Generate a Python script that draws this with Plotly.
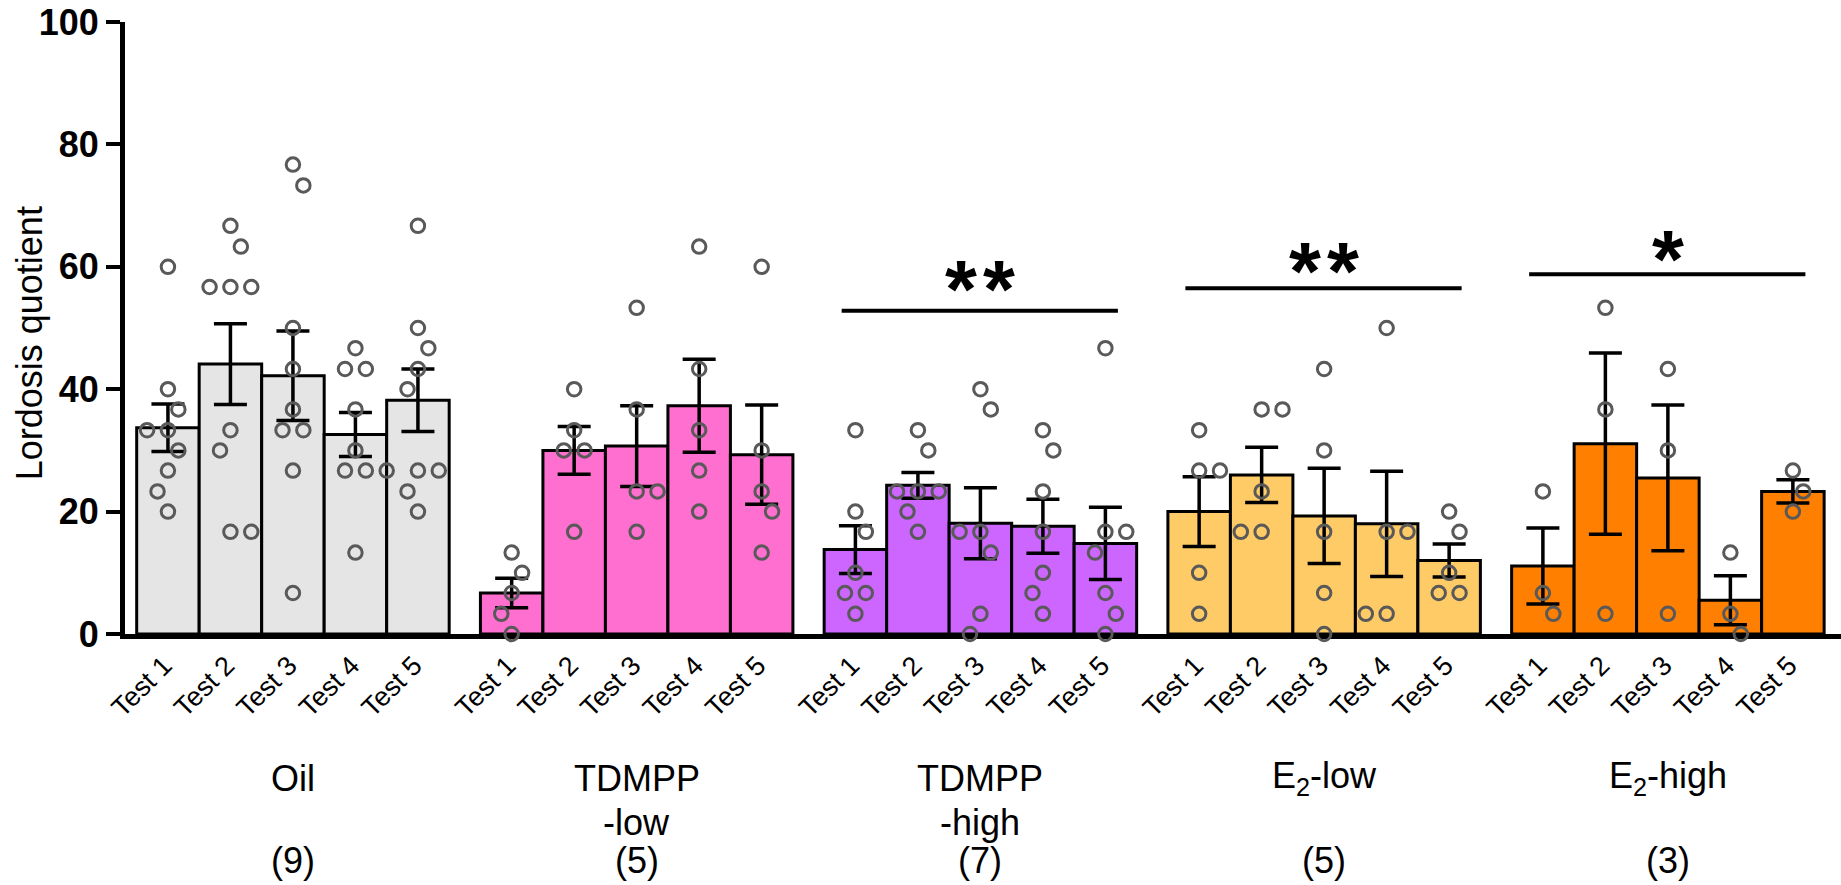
import plotly.graph_objects as go

# ---- data -----------------------------------------------------------------
tests = ["Test 1", "Test 2", "Test 3", "Test 4", "Test 5"]
group_names = ["Oil", "TDMPP", "TDMPP", "E<sub>2</sub>-low", "E<sub>2</sub>-high"]
group_suffix = ["", "-low", "-high", "", ""]
group_n = ["(9)", "(5)", "(7)", "(5)", "(3)"]

# individual lordosis quotients per animal, one list per test
oil_values = [
    [60, 40, 36.7, 33.3, 33.3, 30, 26.7, 23.3, 20],
    [66.7, 63.3, 56.7, 56.7, 56.7, 33.3, 30, 16.7, 16.7],
    [76.7, 73.3, 50, 43.3, 36.7, 33.3, 33.3, 26.7, 6.7],
    [46.7, 43.3, 43.3, 36.7, 30, 26.7, 26.7, 26.7, 13.3],
    [66.7, 50, 46.7, 43.3, 40, 26.7, 26.7, 23.3, 20],
]
tdmpp_low_values = [
    [13.3, 10, 6.7, 3.3, 0],
    [40, 33.3, 30, 30, 16.7],
    [53.3, 36.7, 23.3, 23.3, 16.7],
    [63.3, 43.3, 33.3, 26.7, 20],
    [60, 30, 23.3, 20, 13.3],
]
tdmpp_high_values = [
    [33.3, 20, 16.7, 10, 6.7, 6.7, 3.3],
    [33.3, 30, 23.3, 23.3, 23.3, 20, 16.7],
    [40, 36.7, 16.7, 16.7, 13.3, 3.3, 0],
    [33.3, 30, 23.3, 16.7, 10, 6.7, 3.3],
    [46.7, 16.7, 16.7, 13.3, 6.7, 3.3, 0],
]
e2_low_values = [
    [33.3, 26.7, 26.7, 10, 3.3],
    [36.7, 36.7, 23.3, 16.7, 16.7],
    [43.3, 30, 16.7, 6.7, 0],
    [50, 16.7, 16.7, 3.3, 3.3],
    [20, 16.7, 10, 6.7, 6.7],
]
e2_high_values = [
    [23.3, 6.7, 3.3],
    [53.3, 36.7, 3.3],
    [43.3, 30, 3.3],
    [13.3, 3.3, 0],
    [26.7, 23.3, 20],
]

# group means and SEM per test
oil_mean = [33.7, 44.1, 42.2, 32.6, 38.2]
oil_sem = [3.9, 6.6, 7.3, 3.6, 5.1]
tdmpp_low_mean = [6.7, 30.0, 30.7, 37.3, 29.3]
tdmpp_low_sem = [2.4, 3.9, 6.6, 7.6, 8.1]
tdmpp_high_mean = [13.8, 24.3, 18.1, 17.6, 14.8]
tdmpp_high_sem = [3.9, 2.1, 5.8, 4.4, 5.9]
e2_low_mean = [20.0, 26.0, 19.3, 18.0, 12.0]
e2_low_sem = [5.7, 4.5, 7.8, 8.6, 2.7]
e2_high_mean = [11.1, 31.1, 25.5, 5.5, 23.3]
e2_high_sem = [6.2, 14.8, 11.9, 4.0, 1.9]

# significance markers: (group index, number of stars)
significance = [(2, 2), (3, 2), (4, 1)]

# ---- styling --------------------------------------------------------------
FONT = "Liberation Sans"
colors = ["#E5E5E5", "#FF6FCF", "#CC66FF", "#FFCB66", "#FF8000"]
dot_color = "#595959"
GROUP_PITCH = 5.5
LABEL_SHIFT = 0.06  # angled tick labels sit slightly left of the bar centre

values = [oil_values, tdmpp_low_values, tdmpp_high_values, e2_low_values, e2_high_values]
means = [oil_mean, tdmpp_low_mean, tdmpp_high_mean, e2_low_mean, e2_high_mean]
sems = [oil_sem, tdmpp_low_sem, tdmpp_high_sem, e2_low_sem, e2_high_sem]

# plot geometry (pixels) used to lay out the scatter dots without overlap
L, R, T, B = 125, 0, 22, 251
W, H = 1841, 885
X_RANGE = (-0.187, 27.27)
px_per_x = (W - L - R) / (X_RANGE[1] - X_RANGE[0])
px_per_y = (H - T - B) / 100.0


def swarm_offsets(vals):
    """Greedy beeswarm: shift points sideways in half-marker steps."""
    step = px_per_x / 6.0
    ax, ay = 20.0, 21.0
    placed = []
    offs = []
    for v in vals:
        y = v * px_per_y
        balance = sum(1 if p[0] > 0 else (-1 if p[0] < 0 else 0) for p in placed)
        first = -1 if balance > 0 else 1
        cands = [0]
        for k in range(1, 6):
            cands += [first * k, -first * k]
        chosen = cands[-1]
        for k in cands:
            x = k * step
            if all(((x - px) / ax) ** 2 + ((y - py) / ay) ** 2 >= 1 for px, py in placed):
                chosen = k
                break
        placed.append((chosen * step, y))
        offs.append(chosen * step / px_per_x)
    return offs


fig = go.Figure()

tickvals, ticktext = [], []
for g in range(5):
    centers = [g * GROUP_PITCH + t + 0.5 for t in range(5)]
    tickvals += [c - LABEL_SHIFT for c in centers]
    ticktext += tests
    fig.add_trace(go.Bar(
        x=centers, y=means[g], width=1.0,
        marker=dict(color=colors[g], line=dict(color="black", width=3)),
        error_y=dict(type="data", array=sems[g], visible=True,
                     color="black", thickness=3.5, width=16.5),
        cliponaxis=False, showlegend=False, hoverinfo="skip",
    ))

for g in range(5):
    for t in range(5):
        xc = g * GROUP_PITCH + t + 0.5
        vals = values[g][t]
        offs = swarm_offsets(vals)
        fig.add_trace(go.Scatter(
            x=[xc + o for o in offs], y=vals, mode="markers",
            marker=dict(symbol="circle", size=13.5, color="rgba(0,0,0,0)",
                        line=dict(color=dot_color, width=3)),
            cliponaxis=False, showlegend=False, hoverinfo="skip",
        ))

# significance bars and stars
sig_line_y = {2: 52.8, 3: 56.5, 4: 58.8}
sig_star_y = {2: 60.1, 3: 63.0, 4: 65.0}
STAR_GAP = 38  # px between neighbouring stars
for g, n_stars in significance:
    x0 = g * GROUP_PITCH
    fig.add_shape(type="line", xref="x", yref="y",
                  x0=x0 + 0.28, x1=x0 + 5 - 0.3,
                  y0=sig_line_y[g], y1=sig_line_y[g],
                  line=dict(color="black", width=4))
    for i in range(n_stars):
        fig.add_annotation(x=x0 + 2.5, y=sig_star_y[g], xref="x", yref="y",
                           text="*", showarrow=False, yanchor="middle",
                           xshift=(i - (n_stars - 1) / 2) * STAR_GAP, yshift=-22,
                           font=dict(family=FONT, size=82, color="black", weight="bold"))

# group labels below the axis
for g in range(5):
    xc = g * GROUP_PITCH + 2.5
    fig.add_annotation(x=xc, y=0, xref="x", yref="paper", text=group_names[g],
                       showarrow=False, yanchor="middle", yshift=-(778 - (H - B)),
                       font=dict(family=FONT, size=36, color="black"))
    if group_suffix[g]:
        fig.add_annotation(x=xc, y=0, xref="x", yref="paper", text=group_suffix[g],
                           showarrow=False, yanchor="middle", yshift=-(822 - (H - B)),
                           font=dict(family=FONT, size=36, color="black"))
    fig.add_annotation(x=xc, y=0, xref="x", yref="paper", text=group_n[g],
                       showarrow=False, yanchor="middle", yshift=-(860 - (H - B)),
                       font=dict(family=FONT, size=36, color="black"))

# y-axis title
fig.add_annotation(x=0, y=47.5, xref="paper", yref="y", text="Lordosis quotient",
                   textangle=-90, showarrow=False, xanchor="center", yanchor="middle",
                   xshift=29 - L, font=dict(family=FONT, size=36, color="black"))

fig.update_layout(
    width=W, height=H,
    margin=dict(l=L, r=R, t=T, b=B, pad=0),
    paper_bgcolor="white", plot_bgcolor="white",
    barmode="overlay",
    font=dict(family=FONT, color="black"),
    xaxis=dict(range=list(X_RANGE), tickvals=tickvals, ticktext=ticktext,
               tickangle=-45, tickfont=dict(family=FONT, size=27, color="black"),
               showline=True, linecolor="black", linewidth=5, ticks="",
               showgrid=False, zeroline=False, layer="below traces"),
    yaxis=dict(range=[0, 100], tickvals=[0, 20, 40, 60, 80, 100],
               tickfont=dict(family=FONT, size=36, color="black", weight="bold"),
               showline=True, linecolor="black", linewidth=5,
               ticks="outside", ticklen=14, tickwidth=4, tickcolor="black",
               showgrid=False, zeroline=False),
)

fig.write_html("out.html")
